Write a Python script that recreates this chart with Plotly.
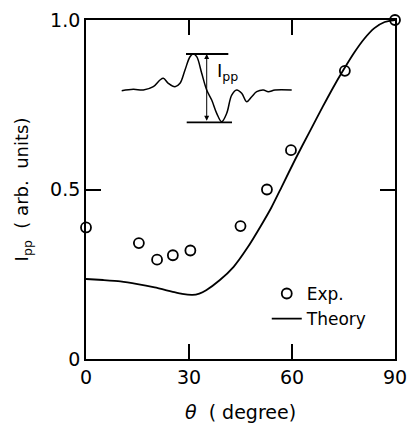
import plotly.graph_objects as go

# Experimental points
exp_theta = [0, 15.4, 20.7, 25.3, 30.4, 45.0, 52.7, 59.7, 75.4, 90]
exp_ipp = [0.388, 0.342, 0.293, 0.306, 0.320, 0.392, 0.500, 0.616, 0.850, 1.0]

# Theory curve
th_theta = [0, 5, 10, 15, 20, 25, 28, 31, 33, 35, 39, 43, 47, 51, 54, 57, 61, 65, 69, 72, 75, 78, 81, 84, 87, 90]
th_ipp = [0.236, 0.233, 0.229, 0.221, 0.211, 0.199, 0.192, 0.189, 0.193, 0.203, 0.233, 0.272, 0.328,
          0.394, 0.447, 0.508, 0.590, 0.668, 0.745, 0.801, 0.853, 0.902, 0.944, 0.976, 0.994, 1.0]

# Inset waveform (arbitrary units)
wave_u = [0, 11.6, 21.6, 31.6, 38.3, 41.6, 46.6, 53.3, 58.3, 63.3, 68.3, 71.6, 75, 80, 85, 90, 95,
          100, 105, 110, 115, 120, 125, 130, 135, 141.6, 146.6, 153.3, 170]
wave_w = [31.6, 33, 32.3, 35.6, 42.3, 44, 39, 35.6, 39, 52.3, 65.6, 68.3, 65.6, 49, 32.3, 22.3, 9,
          0.6, 9, 27.3, 32.3, 29, 20.6, 25.6, 30.6, 32.3, 30.6, 32.3, 32.3]
top_u = [64.3, 106.6]
top_w = [68.3, 68.3]
bot_u = [65.0, 110.3]
bot_w = [0, 0]

x_ticks = [0, 30, 60, 90]
y_ticks = [0, 0.5, 1.0]
y_ticklabels = ["0", "0.5", "1.0"]

FONT = "DejaVu Sans"

fig = go.Figure()
fig.add_trace(go.Scatter(x=exp_theta, y=exp_ipp, mode="markers", name="Exp.",
                         marker=dict(symbol="circle-open", size=10, color="black", line=dict(width=1.8)),
                         cliponaxis=False))
fig.add_trace(go.Scatter(x=th_theta, y=th_ipp, mode="lines", name="Theory",
                         line=dict(color="black", width=1.8, shape="spline", smoothing=0.6), cliponaxis=False))

# inset
fig.add_trace(go.Scatter(x=wave_u, y=wave_w, mode="lines", xaxis="x2", yaxis="y2", showlegend=False,
                         line=dict(color="black", width=1.5, shape="spline"), cliponaxis=False))
fig.add_trace(go.Scatter(x=top_u, y=top_w, mode="lines", xaxis="x2", yaxis="y2", showlegend=False,
                         line=dict(color="black", width=1.8), cliponaxis=False))
fig.add_trace(go.Scatter(x=bot_u, y=bot_w, mode="lines", xaxis="x2", yaxis="y2", showlegend=False,
                         line=dict(color="black", width=1.8), cliponaxis=False))

fig.add_annotation(x=85, y=68.3, ax=85, ay=0, xref="x2", yref="y2", axref="x2", ayref="y2",
                   text="", showarrow=True, arrowhead=2, arrowside="end+start", arrowsize=1,
                   arrowwidth=1, arrowcolor="black")
fig.add_annotation(x=93, y=50, xref="x2", yref="y2", text="I<sub>pp</sub>", showarrow=False,
                   xanchor="left", yanchor="middle", font=dict(family=FONT, size=18, color="black"))

axis_common = dict(showline=True, linecolor="black", linewidth=1.8, mirror="ticks",
                   ticks="inside", ticklen=15, tickwidth=1.6, tickcolor="black",
                   showgrid=False, zeroline=False, automargin=False,
                   tickfont=dict(family=FONT, size=19, color="black"))

fig.update_layout(
    template="none",
    width=409, height=423,
    margin=dict(l=86, r=14, t=20, b=64),
    paper_bgcolor="white", plot_bgcolor="rgba(0,0,0,0)",
    xaxis=dict(range=[0, 90], tickmode="array", tickvals=x_ticks, **axis_common,
               title=dict(text="<i>θ</i>  ( degree)", font=dict(family=FONT, size=19, color="black"),
                          standoff=20)),
    yaxis=dict(range=[0, 1.0], tickmode="array", tickvals=y_ticks, ticktext=y_ticklabels, **axis_common,
               title=dict(text="I<sub>pp</sub>  ( arb.  units)", font=dict(family=FONT, size=18, color="black"),
                          standoff=17)),
    xaxis2=dict(domain=[0.0832, 0.6981], range=[-10, 180], visible=False, anchor="y2"),
    yaxis2=dict(domain=[0.6687, 0.9292], range=[-10, 78.3], visible=False, anchor="x2"),
    legend=dict(x=0.585, y=0.245, xanchor="left", yanchor="top", bgcolor="rgba(0,0,0,0)",
                font=dict(family=FONT, size=17, color="black"), itemwidth=30, tracegroupgap=0),
    showlegend=True,
)

fig.write_html("out.html", config={"displayModeBar": False},
               post_script="document.body.style.margin='0';document.body.style.overflow='hidden';")
